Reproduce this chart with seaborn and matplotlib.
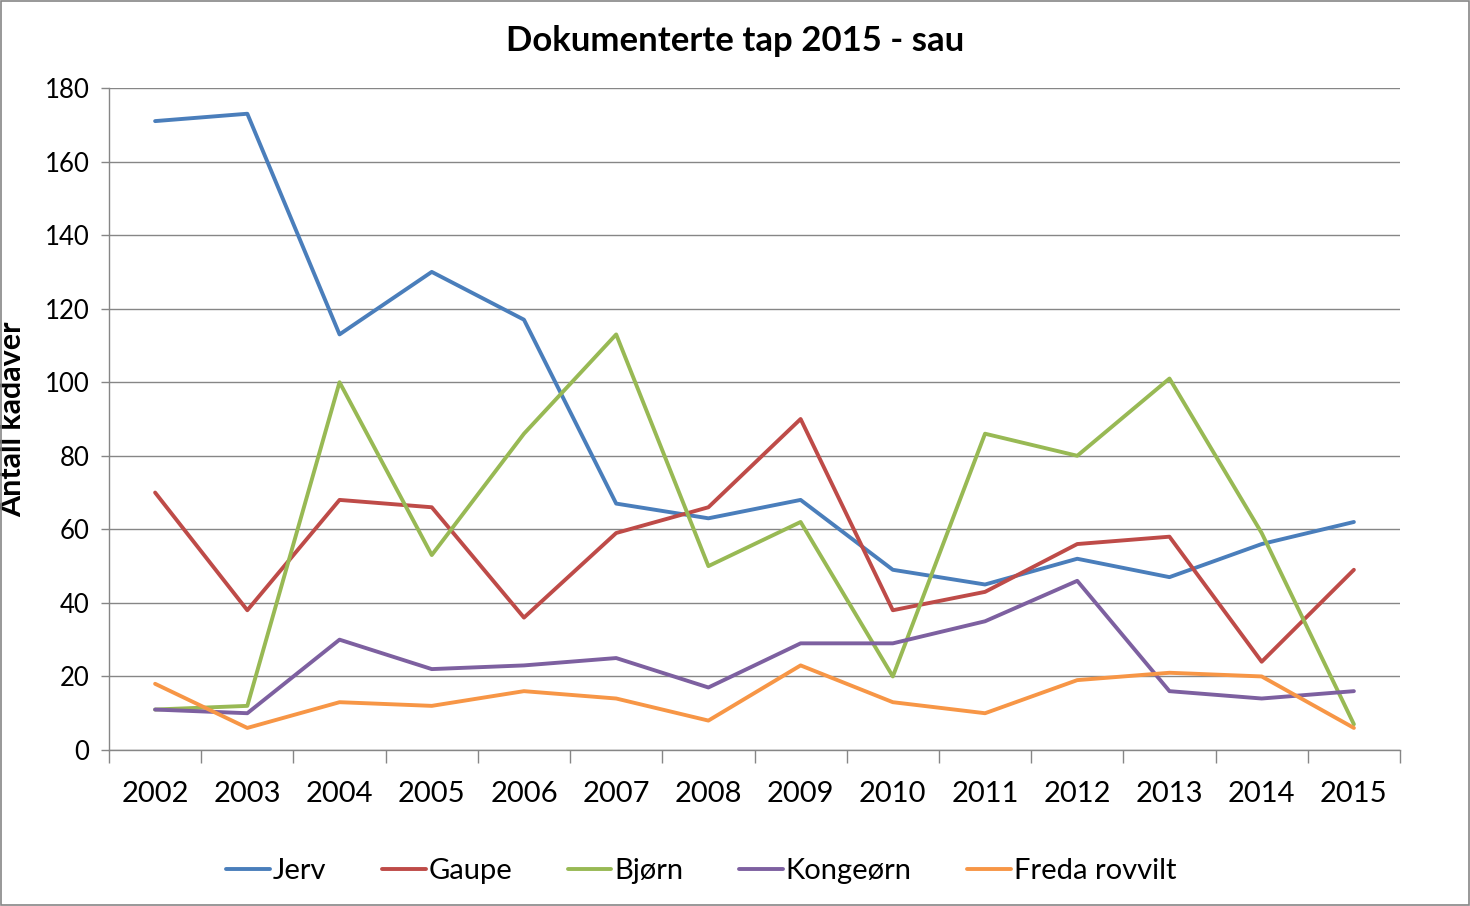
"""Dokumenterte tap 2015 - sau, laget på nytt med seaborn."""

import matplotlib

matplotlib.use("Agg")
import matplotlib.pyplot as plt
import numpy as np
import pandas as pd
import seaborn as sns
from matplotlib.patches import Rectangle

years = [2002, 2003, 2004, 2005, 2006, 2007, 2008, 2009, 2010, 2011, 2012, 2013, 2014, 2015]
jerv = [171, 173, 113, 130, 117, 67, 63, 68, 49, 45, 52, 47, 56, 62]
gaupe = [70, 38, 68, 66, 36, 59, 66, 90, 38, 43, 56, 58, 24, 49]
bjorn = [11, 12, 100, 53, 86, 113, 50, 62, 20, 86, 80, 101, 59, 7]
kongeorn = [11, 10, 30, 22, 23, 25, 17, 29, 29, 35, 46, 16, 14, 16]
freda = [18, 6, 13, 12, 16, 14, 8, 23, 13, 10, 19, 21, 20, 6]

series_names = ["Jerv", "Gaupe", "Bjørn", "Kongeørn", "Freda rovvilt"]
series_values = [jerv, gaupe, bjorn, kongeorn, freda]
colors = ["#4A7EBB", "#BE4B48", "#98B954", "#7D60A0", "#F79646"]
y_ticks = [0, 20, 40, 60, 80, 100, 120, 140, 160, 180]

rows = []
for name, values in zip(series_names, series_values):
    for i, value in enumerate(values):
        rows.append({"pos": i, "year": years[i], "serie": name, "antall": value})
data = pd.DataFrame(rows)

sns.set_theme(style="white")
plt.rcParams["font.family"] = ["Lato", "DejaVu Sans"]
plt.rcParams["text.color"] = "black"
plt.rcParams["xtick.color"] = "black"
plt.rcParams["ytick.color"] = "black"
plt.rcParams["axes.labelcolor"] = "black"

figure = plt.figure(figsize=(14.7, 9.06), dpi=100)
axis = figure.add_axes([109 / 1470, 1 - 750 / 906, (1400 - 109) / 1470, (750 - 88) / 906])

sns.lineplot(
    data=data, x="pos", y="antall", hue="serie", hue_order=series_names,
    palette=colors, linewidth=2.8, ax=axis, legend=True,
)

axis.set_xlim(-0.5, len(years) - 0.5)
axis.set_ylim(0, 180)
axis.set_yticks(y_ticks)
axis.set_yticklabels([str(t) for t in y_ticks], fontsize=18.5)
axis.yaxis.grid(True, color="#868686", linewidth=1)
axis.set_axisbelow(True)

axis.set_xticks(range(len(years)))
axis.set_xticklabels([str(y) for y in years], fontsize=21)
axis.set_xticks(np.arange(-0.5, len(years), 1.0), minor=True)
axis.tick_params(axis="x", which="major", length=0, pad=22, labelcolor="black")
axis.tick_params(axis="x", which="minor", length=9, color="#868686", width=1, direction="out", bottom=True)
axis.tick_params(axis="y", length=6, color="#868686", width=1, direction="out", left=True, pad=8,
                 labelcolor="black")

for side in ("top", "right"):
    axis.spines[side].set_visible(False)
for side in ("left", "bottom"):
    axis.spines[side].set_color("#868686")
    axis.spines[side].set_linewidth(1)

axis.set_xlabel("")
axis.set_ylabel("Antall kadaver", fontsize=22, fontweight="bold", color="black")
axis.yaxis.set_label_coords(-0.064, 0.5)

figure.suptitle("Dokumenterte tap 2015 - sau", fontsize=25, fontweight="bold", y=0.972, color="black")

handles, labels = axis.get_legend_handles_labels()
axis.legend_.remove()
figure.legend(
    handles, labels, loc="center", bbox_to_anchor=(0.477, 1 - 871 / 906), ncol=5,
    frameon=False, fontsize=21, handlelength=1.5, handletextpad=0.1, columnspacing=1.9,
    labelcolor="black",
)

figure.patches.append(
    Rectangle((0.001, 0.001), 0.998, 0.998, transform=figure.transFigure,
              fill=False, edgecolor="#868686", linewidth=1.2)
)

figure.savefig("out.png", dpi=100)
plt.close(figure)
